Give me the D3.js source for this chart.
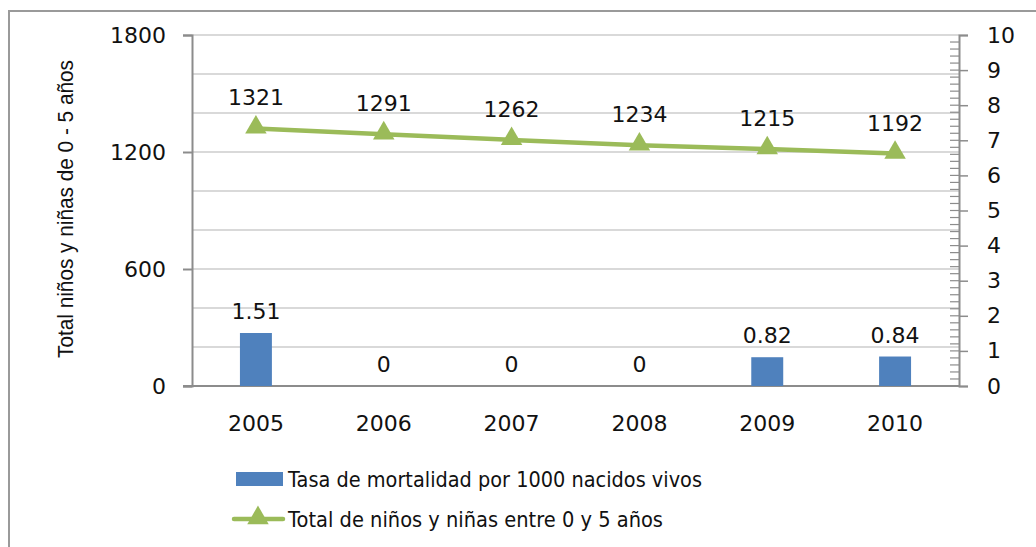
<!DOCTYPE html>
<html>
<head>
<meta charset="utf-8">
<script src="https://cdn.jsdelivr.net/npm/d3@7"></script>
<style>
  body { margin: 0; background: #fff; }
  text { font-family: "DejaVu Sans", sans-serif; fill: #111; }
</style>
</head>
<body>
<svg id="chart" width="1036" height="547"></svg>
<script>
const years = ["2005", "2006", "2007", "2008", "2009", "2010"];
const tasaMortalidad = [1.51, 0, 0, 0, 0.82, 0.84];
const totalNinos = [1321, 1291, 1262, 1234, 1215, 1192];
const leftTicks = [0, 600, 1200, 1800];
const rightTicks = [0, 1, 2, 3, 4, 5, 6, 7, 8, 9, 10];
const gridValues = [200, 400, 600, 800, 1000, 1200, 1400, 1600, 1800];
const yTitle = "Total niños y niñas de 0 - 5 años";
const legendLabels = ["Tasa de mortalidad por 1000 nacidos vivos", "Total de niños y niñas entre 0 y 5 años"];

const barColor = "#4f81bd";
const lineColor = "#9bbb59";
const axisColor = "#8c8c8c";
const fontSize = "22px";

const plotLeft = 192, plotRight = 959, plotTop = 35, plotBottom = 386;

const svg = d3.select("#chart");

// outer frame (left and top edges)
svg.append("path")
  .attr("d", "M9,547 V11 H1036")
  .attr("fill", "none")
  .attr("stroke", "#9a9a9a")
  .attr("stroke-width", 2);

const x = d3.scaleBand().domain(years).range([plotLeft, plotRight]).padding(0);
const yLeft = d3.scaleLinear().domain([0, 1800]).range([plotBottom, plotTop]);
const yRight = d3.scaleLinear().domain([0, 10]).range([plotBottom, plotTop]);
const cx = i => x(years[i]) + x.bandwidth() / 2;

// gridlines
svg.append("g")
  .selectAll("line")
  .data(gridValues)
  .join("line")
  .attr("x1", plotLeft)
  .attr("x2", plotRight)
  .attr("y1", d => yLeft(d))
  .attr("y2", d => yLeft(d))
  .attr("stroke", "#d9d9d9")
  .attr("stroke-width", 2);

// left axis
const leftAxis = svg.append("g")
  .attr("transform", `translate(${plotLeft},0)`)
  .call(d3.axisLeft(yLeft).tickValues(leftTicks).tickSize(9).tickPadding(17).tickFormat(d3.format("d")));
leftAxis.select(".domain").attr("stroke", axisColor).attr("stroke-width", 2);
leftAxis.selectAll(".tick line").attr("stroke", axisColor).attr("stroke-width", 2);
leftAxis.selectAll("text").style("font-size", fontSize).attr("fill", "#111");

// right axis: minor ticks inside, major ticks outside
svg.append("g")
  .selectAll("line")
  .data(d3.range(0, 50).map(i => i / 5))
  .join("line")
  .attr("x1", plotRight - 9)
  .attr("x2", plotRight)
  .attr("y1", d => yRight(d))
  .attr("y2", d => yRight(d))
  .attr("stroke", axisColor)
  .attr("stroke-width", 1.2);

const rightAxis = svg.append("g")
  .attr("transform", `translate(${plotRight},0)`)
  .call(d3.axisRight(yRight).tickValues(rightTicks).tickSize(9).tickPadding(19));
rightAxis.select(".domain").attr("stroke", axisColor).attr("stroke-width", 2);
rightAxis.selectAll(".tick line").attr("stroke", axisColor).attr("stroke-width", 1.5);
rightAxis.selectAll("text").style("font-size", fontSize).attr("fill", "#111");

// bottom axis line
svg.append("line")
  .attr("x1", plotLeft - 9)
  .attr("x2", plotRight)
  .attr("y1", yLeft(0))
  .attr("y2", yLeft(0))
  .attr("stroke", axisColor)
  .attr("stroke-width", 2);

// category labels
svg.append("g")
  .selectAll("text")
  .data(years)
  .join("text")
  .attr("x", (d, i) => cx(i))
  .attr("y", 431)
  .attr("text-anchor", "middle")
  .style("font-size", fontSize)
  .text(d => d);

// bars
const barW = x.bandwidth() * 0.25;
svg.append("g")
  .selectAll("rect")
  .data(tasaMortalidad)
  .join("rect")
  .attr("x", (d, i) => cx(i) - barW / 2)
  .attr("y", d => yRight(d))
  .attr("width", barW)
  .attr("height", d => yRight(0) - yRight(d))
  .attr("fill", barColor);

svg.append("g")
  .selectAll("text")
  .data(tasaMortalidad)
  .join("text")
  .attr("x", (d, i) => cx(i))
  .attr("y", d => yRight(d) - 14)
  .attr("text-anchor", "middle")
  .style("font-size", fontSize)
  .text(d => d);

// line
const line = d3.line()
  .x((d, i) => cx(i))
  .y(d => yLeft(d));

svg.append("path")
  .datum(totalNinos)
  .attr("d", line)
  .attr("fill", "none")
  .attr("stroke", lineColor)
  .attr("stroke-width", 4.5);

const tri = d3.symbol().type(d3.symbolTriangle).size(200);
svg.append("g")
  .selectAll("path")
  .data(totalNinos)
  .join("path")
  .attr("d", tri)
  .attr("transform", (d, i) => `translate(${cx(i)},${yLeft(d) - 1})`)
  .attr("fill", lineColor);

svg.append("g")
  .selectAll("text")
  .data(totalNinos)
  .join("text")
  .attr("x", (d, i) => cx(i))
  .attr("y", d => yLeft(d) - 23)
  .attr("text-anchor", "middle")
  .style("font-size", fontSize)
  .text(d => d);

// y axis title
svg.append("text")
  .attr("transform", "translate(73,209) rotate(-90)")
  .attr("text-anchor", "middle")
  .attr("textLength", 298)
  .attr("lengthAdjust", "spacingAndGlyphs")
  .style("font-family", "'Liberation Sans Narrow', 'Liberation Sans', sans-serif")
  .style("font-size", "22px")
  .text(yTitle);

// legend
svg.append("rect")
  .attr("x", 236)
  .attr("y", 472)
  .attr("width", 47)
  .attr("height", 14)
  .attr("fill", barColor);

svg.append("line")
  .attr("x1", 234)
  .attr("x2", 283)
  .attr("y1", 519)
  .attr("y2", 519)
  .attr("stroke", lineColor)
  .attr("stroke-width", 4.5)
  .attr("stroke-linecap", "round");

svg.append("path")
  .attr("d", tri)
  .attr("transform", "translate(258,518)")
  .attr("fill", lineColor);

svg.append("g")
  .selectAll("text")
  .data(legendLabels)
  .join("text")
  .attr("x", 288)
  .attr("y", (d, i) => 487 + i * 40)
  .attr("textLength", (d, i) => i === 0 ? 414 : 375)
  .attr("lengthAdjust", "spacingAndGlyphs")
  .style("font-size", fontSize)
  .text(d => d);
</script>
</body>
</html>
